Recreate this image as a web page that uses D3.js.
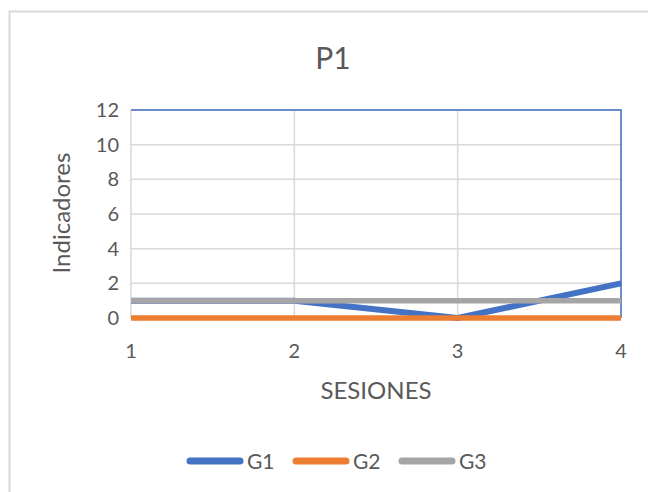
<!DOCTYPE html>
<html>
<head>
<meta charset="utf-8">
<script src="https://cdn.jsdelivr.net/npm/d3@7"></script>
<style>
  html, body { margin: 0; padding: 0; background: #fff; overflow: hidden; }
  svg { display: block; }
  text { font-family: Lato, "Open Sans", sans-serif; fill: #595959; }
</style>
</head>
<body>
<div id="viz"></div>
<script>
// chart data
const sesiones = [1, 2, 3, 4];
const seriesNames = ["G1", "G2", "G3"];
const g1 = [1, 1, 0, 2];
const g2 = [0, 0, 0, 0];
const g3 = [1, 1, 1, 1];
const yTicks = [0, 2, 4, 6, 8, 10, 12];
const colors = ["#4472C4", "#ED7D31", "#A5A5A5"];

const width = 648;
const height = 492;

const svg = d3.select("#viz")
    .append("svg")
    .attr("width", width)
    .attr("height", height);

// chart border (runs off the right and bottom edges)
svg.append("path")
    .attr("d", `M${width},11.5 H9.5 V${height}`)
    .attr("fill", "none")
    .attr("stroke", "#d9d9d9")
    .attr("stroke-width", 2);

const margin = {top: 110, right: 27, left: 131, bottom: 174};

// scales in page coordinates
const xScale = d3.scaleLinear()
    .domain([1, 4])
    .range([margin.left, width - margin.right]);

const yScale = d3.scaleLinear()
    .domain([0, 12])
    .range([height - margin.bottom, margin.top]);

// gridlines
svg.selectAll(".hgrid").data(yTicks)
    .enter().append("line")
        .attr("class", "hgrid")
        .attr("x1", xScale(1)).attr("x2", xScale(4))
        .attr("y1", d => yScale(d)).attr("y2", d => yScale(d))
        .attr("stroke", "#d9d9d9").attr("stroke-width", 1.5);

svg.selectAll(".vgrid").data(sesiones)
    .enter().append("line")
        .attr("class", "vgrid")
        .attr("x1", d => xScale(d)).attr("x2", d => xScale(d))
        .attr("y1", yScale(12)).attr("y2", yScale(0))
        .attr("stroke", "#d9d9d9").attr("stroke-width", 1.5);

// blue plot-area outline at top and right
svg.append("path")
    .attr("d", `M${xScale(1)},${yScale(12)} H${xScale(4)} V${yScale(0)}`)
    .attr("fill", "none")
    .attr("stroke", "#4472C4").attr("stroke-width", 1.5);

// tick labels
svg.selectAll(".ytick").data(yTicks)
    .enter().append("text")
        .attr("class", "ytick")
        .attr("x", xScale(1) - 12)
        .attr("y", d => yScale(d))
        .attr("dy", "0.35em")
        .attr("text-anchor", "end")
        .attr("font-size", 20)
        .text(d => d);

svg.selectAll(".xtick").data(sesiones)
    .enter().append("text")
        .attr("class", "xtick")
        .attr("x", d => xScale(d))
        .attr("y", yScale(0) + 40)
        .attr("text-anchor", "middle")
        .attr("font-size", 20)
        .text(d3.format("d"));

// lines
const seriesData = [g1, g2, g3];
const line = d3.line()
    .x((d, i) => xScale(sesiones[i]))
    .y(d => yScale(d));

svg.selectAll(".series").data(seriesData)
    .enter().append("path")
        .attr("class", "series")
        .attr("d", line)
        .attr("fill", "none")
        .attr("stroke", (d, i) => colors[i])
        .attr("stroke-width", (d, i) => i === 0 ? 6 : 5.5)
        .attr("stroke-linejoin", "round");

// titles
svg.append("text")
    .attr("x", 333).attr("y", 69)
    .attr("text-anchor", "middle")
    .attr("font-size", 30)
    .text("P1");

svg.append("text")
    .attr("x", 376).attr("y", 399)
    .attr("text-anchor", "middle")
    .attr("font-size", 24)
    .text("SESIONES");

svg.append("text")
    .attr("x", 70).attr("y", 213)
    .attr("transform", "rotate(-90, 70, 213)")
    .attr("text-anchor", "middle")
    .attr("font-size", 24)
    .text("Indicadores");

// legend
const legendX = [187, 293, 399];
const legendY = 461;
seriesNames.forEach((name, i) => {
    svg.append("line")
        .attr("x1", legendX[i] + 3).attr("x2", legendX[i] + 53)
        .attr("y1", legendY).attr("y2", legendY)
        .attr("stroke", colors[i])
        .attr("stroke-width", 7)
        .attr("stroke-linecap", "round");
    svg.append("text")
        .attr("x", legendX[i] + 60).attr("y", legendY + 8)
        .attr("font-size", 21)
        .text(name);
});
</script>
</body>
</html>
